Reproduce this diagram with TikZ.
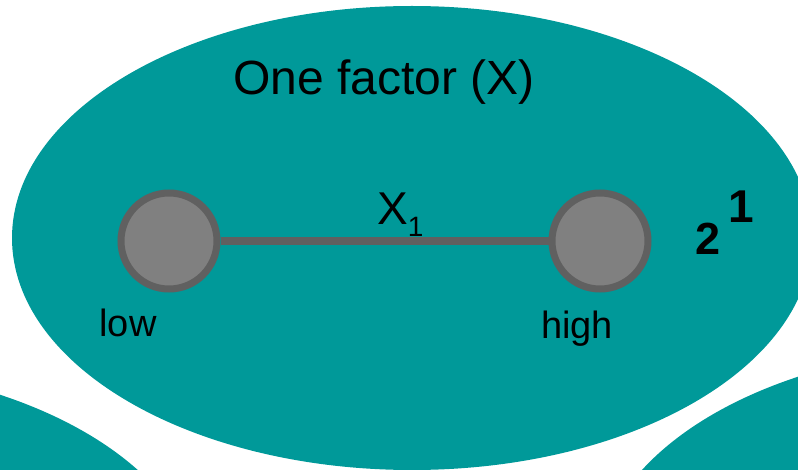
\documentclass[tikz,border=0pt]{standalone}
\usepackage{fontspec}
\setmainfont{Liberation Sans}
\definecolor{dteal}{RGB}{0,153,153}
\definecolor{dotgray}{RGB}{128,128,128}
\definecolor{rimgray}{RGB}{96,96,96}
\usetikzlibrary{positioning}

\begin{document}
\begin{tikzpicture}[x=1pt,y=-1pt,
  level/.style={circle, fill=dotgray, draw=rimgray, line width=7pt, minimum size=96pt, inner sep=0pt},
  lvllabel/.style={font=\fontsize{38}{46}\selectfont, anchor=base, inner sep=0pt}]
  \useasboundingbox (0,0) rectangle (798,470);
  \clip (0,0) rectangle (798,470);
  % Neighbouring ellipses (cut off)
  \fill[dteal] (-195,596) ellipse [x radius=397, y radius=231];
  \fill[dteal] (993,578) ellipse [x radius=397, y radius=231];
  % Main ellipse
  \fill[dteal] (412,238) ellipse [x radius=400, y radius=232];
  \node[font=\fontsize{48}{58}\selectfont, anchor=base, inner sep=0pt] (title) at (384,95) {One factor (X)};
  % Factor levels
  \node[level] (low) at (169,241) {};
  \node[level] (high) at (600,241) {};
  \draw[rimgray, line width=8pt] (low) -- (high);
  \node[font=\fontsize{46}{55}\selectfont, anchor=base west, inner sep=0pt] (xone) at (377,225)
    {X\raisebox{-12pt}{\fontsize{28}{34}\selectfont 1}};
  \node[lvllabel] (lowlbl) at (128,337) {low};
  \node[lvllabel] (highlbl) at (577,339) {high};
  % Number of runs
  \node[font=\fontsize{45}{54}\selectfont\bfseries, anchor=base west, inner sep=0pt] (runs) at (695,255)
    {2\hspace{8pt}\raisebox{32pt}{\fontsize{46}{55}\selectfont 1}};
\end{tikzpicture}
\end{document}
